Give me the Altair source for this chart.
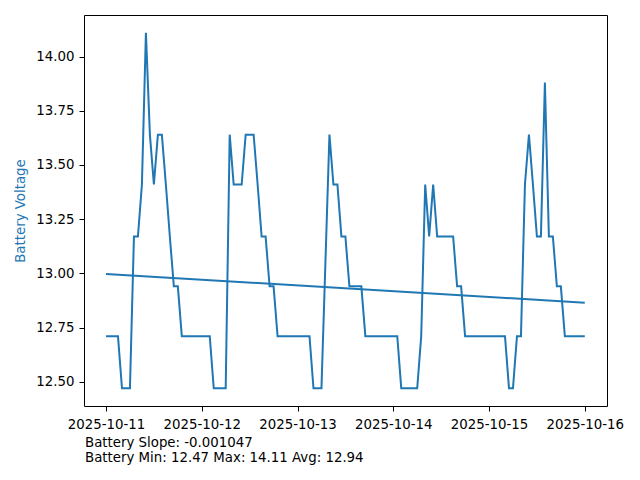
import altair as alt
import pandas as pd

# ---- data (hourly readings, one missing at hour 55) ----
start_time = "2025-10-11 00:00"
voltage = [
    12.71, 12.71, 12.71, 12.71, 12.47, 12.47, 12.47, 13.17, 13.17, 13.41,   # h0-9
    14.11, 13.64, 13.41, 13.64, 13.64, 13.41, 13.17, 12.94, 12.94, 12.71,   # h10-19
    12.71, 12.71, 12.71, 12.71, 12.71, 12.71, 12.71, 12.47, 12.47, 12.47,   # h20-29
    12.47, 13.64, 13.41, 13.41, 13.41, 13.64, 13.64, 13.64, 13.41, 13.17,   # h30-39
    13.17, 12.94, 12.94, 12.71, 12.71, 12.71, 12.71, 12.71, 12.71, 12.71,   # h40-49
    12.71, 12.71, 12.47, 12.47, 12.47, None, 13.64, 13.41, 13.41, 13.17,    # h50-59
    13.17, 12.94, 12.94, 12.94, 12.94, 12.71, 12.71, 12.71, 12.71, 12.71,   # h60-69
    12.71, 12.71, 12.71, 12.71, 12.47, 12.47, 12.47, 12.47, 12.47, 12.71,   # h70-79
    13.41, 13.17, 13.41, 13.17, 13.17, 13.17, 13.17, 13.17, 12.94, 12.94,   # h80-89
    12.71, 12.71, 12.71, 12.71, 12.71, 12.71, 12.71, 12.71, 12.71, 12.71,   # h90-99
    12.71, 12.47, 12.47, 12.71, 12.71, 13.41, 13.64, 13.41, 13.17, 13.17,   # h100-109
    13.88, 13.17, 13.17, 12.94, 12.94, 12.71, 12.71, 12.71, 12.71, 12.71,   # h110-119
    12.71,                                                                  # h120
]
slope_text = "Battery Slope: -0.001047"
stats_text = "Battery Min: 12.47 Max: 14.11 Avg: 12.94"
y_title = "Battery Voltage"
y_ticks = [12.5, 12.75, 13.0, 13.25, 13.5, 13.75, 14.0]
x_tick_days = [11, 12, 13, 14, 15, 16]
y_domain = [12.388, 14.192]

times = pd.date_range(start_time, periods=len(voltage), freq="h")
df = pd.DataFrame({"time": times, "voltage": voltage}).dropna()

BLUE = "#1f77b4"
FONT = "DejaVu Sans"
FS = 13.33

x_enc = alt.X(
    "time:T",
    scale=alt.Scale(domain=[
        alt.DateTime(year=2025, month=10, date=10, hours=18, minutes=29),
        alt.DateTime(year=2025, month=10, date=16, hours=5, minutes=34),
    ]),
    axis=alt.Axis(
        values=[alt.DateTime(year=2025, month=10, date=d) for d in x_tick_days],
        format="%Y-%m-%d", title=None, labelPadding=6,
    ),
)
y_enc = alt.Y(
    "voltage:Q",
    scale=alt.Scale(domain=y_domain, zero=False, nice=False),
    axis=alt.Axis(
        values=y_ticks, format=".2f", title=y_title, labelPadding=5,
        titleColor=BLUE, titleX=-64, titleY=195.5, titleAngle=270,
        titleAlign="center", titleBaseline="middle",
    ),
)

line = alt.Chart(df).mark_line(color=BLUE, strokeWidth=2).encode(x=x_enc, y=y_enc)

trend = (
    alt.Chart(df)
    .transform_regression("time", "voltage")
    .mark_line(color=BLUE, strokeWidth=2)
    .encode(x="time:T", y="voltage:Q")
)

txt1 = alt.Chart(pd.DataFrame({"t": [slope_text]})).mark_text(
    align="left", baseline="alphabetic", font=FONT, fontSize=FS, color="black"
).encode(text="t:N", x=alt.value(1), y=alt.value(431.7))

txt2 = alt.Chart(pd.DataFrame({"t": [stats_text]})).mark_text(
    align="left", baseline="alphabetic", font=FONT, fontSize=FS, color="black"
).encode(text="t:N", x=alt.value(1), y=alt.value(447.3))

chart = (
    alt.layer(line, trend, txt1, txt2)
    .properties(
        width=523, height=391,
        autosize=alt.AutoSizeParams(type="none"),
        padding={"left": 76, "top": 7, "right": 17, "bottom": 66},
    )
    .configure_view(stroke="black", strokeWidth=1)
    .configure_axis(
        domain=False, grid=False, tickColor="black", tickSize=5, tickWidth=1,
        labelColor="black", labelFont=FONT, labelFontSize=FS,
        titleFont=FONT, titleFontSize=FS, titleFontWeight="normal",
    )
)

chart.save("out.html", embed_options={"renderer": "svg", "actions": False})
